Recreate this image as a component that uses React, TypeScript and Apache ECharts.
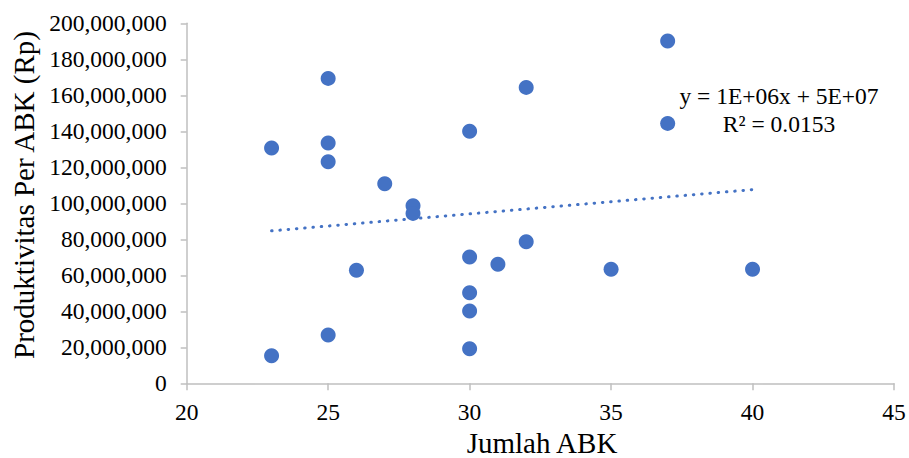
import React, { useEffect, useRef } from "react";
import * as echarts from "echarts";

// Data
const jumlahABK = [23, 23, 25, 25, 25, 25, 26, 27, 28, 28, 30, 30, 30, 30, 30, 31, 32, 32, 35, 37, 37, 40];
const produktivitas = [
  130700000, 15300000, 169400000, 133500000, 123100000, 26800000, 62800000, 110900000,
  98700000, 94400000, 140000000, 70200000, 50300000, 40200000, 19200000, 66100000,
  164400000, 78700000, 63400000, 190200000, 144400000, 63300000,
];
const xAxisMin = 20;
const xAxisMax = 45;
const xAxisStep = 5;
const yAxisMin = 0;
const yAxisMax = 200000000;
const yAxisStep = 20000000;
const trendLabels = ["y = 1E+06x + 5E+07", "R² = 0.0153"];
const xTitle = "Jumlah ABK";
const yTitle = "Produktivitas Per ABK (Rp)";

const FONT = "'Liberation Serif', 'Times New Roman', serif";
const BLUE = "#4472C4";

function linearFit(xs: number[], ys: number[]) {
  const n = xs.length;
  const mx = xs.reduce((a, b) => a + b, 0) / n;
  const my = ys.reduce((a, b) => a + b, 0) / n;
  let sxx = 0;
  let sxy = 0;
  for (let i = 0; i < n; i++) {
    sxx += (xs[i] - mx) * (xs[i] - mx);
    sxy += (xs[i] - mx) * (ys[i] - my);
  }
  const slope = sxy / sxx;
  return { slope, intercept: my - slope * mx };
}

export default function App() {
  const ref = useRef<HTMLDivElement>(null);
  useEffect(() => {
    if (!ref.current) return;
    const chart = echarts.init(ref.current, undefined, { renderer: "svg" });
    const fit = linearFit(jumlahABK, produktivitas);
    const x0 = Math.min(...jumlahABK);
    const x1 = Math.max(...jumlahABK);
    const trend = [
      [x0, fit.intercept + fit.slope * x0],
      [x1, fit.intercept + fit.slope * x1],
    ];
    chart.setOption({
      animation: false,
      backgroundColor: "#ffffff",
      grid: { left: 186.7, right: 15, top: 23.3, bottom: 74.7, containLabel: false },
      xAxis: {
        type: "value",
        min: xAxisMin,
        max: xAxisMax,
        interval: xAxisStep,
        axisLine: { show: true, onZero: false, lineStyle: { color: "#bfbfbf", width: 1.5 } },
        axisTick: { show: true, length: 7, inside: false, lineStyle: { color: "#bfbfbf", width: 1.5 } },
        splitLine: { show: false },
        axisLabel: { color: "#000", fontFamily: FONT, fontSize: 23.5, margin: 17 },
      },
      yAxis: {
        type: "value",
        min: yAxisMin,
        max: yAxisMax,
        interval: yAxisStep,
        axisLine: { show: true, lineStyle: { color: "#bfbfbf", width: 1.5 } },
        axisTick: { show: true, length: 6, inside: false, lineStyle: { color: "#bfbfbf", width: 1.5 } },
        splitLine: { show: false },
        axisLabel: {
          color: "#000",
          fontFamily: FONT,
          fontSize: 23.5,
          margin: 20,
          formatter: (v: number) => v.toLocaleString("en-US"),
        },
      },
      graphic: [
        {
          type: "text",
          left: undefined,
          x: 542,
          y: 443,
          style: {
            text: xTitle,
            fontFamily: FONT,
            fontSize: 29,
            fill: "#000",
            align: "center",
            verticalAlign: "middle",
          },
        },
        {
          type: "text",
          x: 23.5,
          y: 195,
          rotation: Math.PI / 2,
          style: {
            text: yTitle,
            fontFamily: FONT,
            fontSize: 29,
            fill: "#000",
            align: "center",
            verticalAlign: "middle",
          },
        },
        {
          type: "text",
          x: 779,
          y: 96,
          style: {
            text: trendLabels[0],
            fontFamily: FONT,
            fontSize: 23.5,
            fill: "#000",
            align: "center",
            verticalAlign: "middle",
          },
        },
        {
          type: "text",
          x: 779,
          y: 124,
          style: {
            text: trendLabels[1],
            fontFamily: FONT,
            fontSize: 23.5,
            fill: "#000",
            align: "center",
            verticalAlign: "middle",
          },
        },
      ],
      series: [
        {
          type: "line",
          data: trend,
          symbol: "none",
          silent: true,
          z: 1,
          lineStyle: { color: BLUE, width: 3, type: [0.5, 7.8], cap: "round" },
        },
        {
          type: "scatter",
          data: jumlahABK.map((x, i) => [x, produktivitas[i]]),
          symbol: "circle",
          symbolSize: 15,
          z: 3,
          itemStyle: { color: BLUE, opacity: 1 },
        },
      ],
    });
    return () => chart.dispose();
  }, []);
  return (
    <div
      ref={ref}
      style={{ position: "fixed", left: 0, top: 0, width: 909, height: 458 }}
    />
  );
}
